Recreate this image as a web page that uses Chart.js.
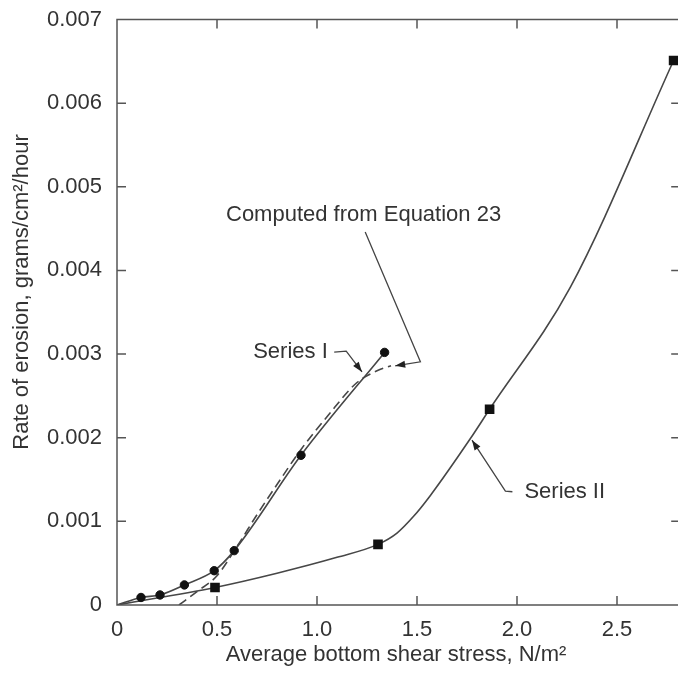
<!DOCTYPE html>
<html>
<head>
<meta charset="utf-8">
<title>Rate of erosion</title>
<script src="https://cdn.jsdelivr.net/npm/chart.js@4.4.1/dist/chart.umd.min.js"></script>
<style>
  html, body { margin: 0; padding: 0; background: #fff; overflow: hidden; }
  canvas { display: block; }
</style>
</head>
<body>
<canvas id="erosion" width="687" height="673"></canvas>
<script>
// axis ticks
const xTicks = [0, 0.5, 1.0, 1.5, 2.0, 2.5];
const yTicks = [0, 0.001, 0.002, 0.003, 0.004, 0.005, 0.006, 0.007];

// Series I, measured points
const s1Stress = [0.12, 0.215, 0.337, 0.486, 0.586, 0.92, 1.338];
const s1Rate = [0.00009, 0.00012, 0.00024, 0.00041, 0.00065, 0.00179, 0.00302];

// Series II, measured points
const s2Stress = [0.49, 1.305, 1.863, 2.783];
const s2Rate = [0.00021, 0.000725, 0.00234, 0.00651];

// Series II, drawn curve
const s2CurveStress = [0, 0.49, 0.8, 1.1, 1.305, 1.40, 1.483, 1.567, 1.767, 1.863, 2.267, 2.783];
const s2CurveRate = [0, 0.00021, 0.00038, 0.00057, 0.000725, 0.00086, 0.00106, 0.00131, 0.00199, 0.00234, 0.0038, 0.00651];

// Computed from Equation 23
const eqStress = [0.31, 0.40, 0.50, 0.60, 0.70, 0.80, 0.92, 1.05, 1.20, 1.30, 1.37];
const eqRate = [0, 0.00016, 0.00035, 0.0007, 0.00108, 0.00144, 0.00186, 0.00225, 0.00266, 0.0028, 0.00286];

const FONT = "'Liberation Sans', Arial, Helvetica, sans-serif";
const INK = '#333';
const LINE = '#474747';
const TICK_LEN = 9;

function pts(xs, ys) {
    return xs.map((v, i) => ({ x: v, y: ys[i] }));
}

// labels with leader lines (data units)
const notes = [
    { text: 'Computed from Equation 23', at: [0.545, 0.00466], path: [[1.241, 0.00446], [1.517, 0.002907], [1.391, 0.002859]] },
    { text: 'Series I', at: [0.681, 0.003023], path: [[1.086, 0.003023], [1.146, 0.003035], [1.225, 0.002787]] },
    { text: 'Series II', at: [2.037, 0.001354], path: [[1.977, 0.001354], [1.942, 0.001362], [1.775, 0.001971]] }
];

function arrowHead(ctx, x0, y0, x1, y1) {
    let ang = Math.atan2(y1 - y0, x1 - x0);
    let len = 10, half = 3.5;
    ctx.beginPath();
    ctx.moveTo(x1, y1);
    ctx.lineTo(x1 - len * Math.cos(ang) + half * Math.sin(ang), y1 - len * Math.sin(ang) - half * Math.cos(ang));
    ctx.lineTo(x1 - len * Math.cos(ang) - half * Math.sin(ang), y1 - len * Math.sin(ang) + half * Math.cos(ang));
    ctx.closePath();
    ctx.fill();
}

// no extra room for half labels at the ends of the axes
function noEdgePadding(s) {
    s.paddingTop = 0; s.paddingBottom = 0;
    s.paddingLeft = 0; s.paddingRight = 0;
}

const boxPlugin = {
    id: 'box',
    afterDraw(chart) {
        const ctx = chart.ctx;
        const a = chart.chartArea;
        const sx = chart.scales.x, sy = chart.scales.y;
        ctx.save();

        // frame with inward ticks on all sides
        ctx.strokeStyle = '#555';
        ctx.lineWidth = 1.5;
        ctx.strokeRect(a.left, a.top, a.right - a.left, a.bottom - a.top);
        ctx.beginPath();
        xTicks.forEach(v => {
            if (v === 0) return;
            let px = sx.getPixelForValue(v);
            ctx.moveTo(px, a.bottom); ctx.lineTo(px, a.bottom - TICK_LEN);
            ctx.moveTo(px, a.top); ctx.lineTo(px, a.top + TICK_LEN);
        });
        yTicks.forEach(v => {
            if (v === 0 || v === 0.007) return;
            let py = sy.getPixelForValue(v);
            ctx.moveTo(a.left, py); ctx.lineTo(a.left + TICK_LEN, py);
            ctx.moveTo(a.right, py); ctx.lineTo(a.right - TICK_LEN, py);
        });
        ctx.stroke();

        // axis titles
        ctx.fillStyle = INK;
        ctx.font = '22px ' + FONT;
        ctx.textAlign = 'center';
        ctx.textBaseline = 'middle';
        ctx.fillText('Average bottom shear stress, N/m²', 396, 655);
        ctx.save();
        ctx.translate(22, 292);
        ctx.rotate(-Math.PI / 2);
        ctx.fillText('Rate of erosion, grams/cm²/hour', 0, 0);
        ctx.restore();

        // annotations
        ctx.textAlign = 'left';
        ctx.strokeStyle = '#444';
        ctx.fillStyle = INK;
        ctx.lineWidth = 1.3;
        notes.forEach(n => {
            ctx.fillText(n.text, sx.getPixelForValue(n.at[0]), sy.getPixelForValue(n.at[1]));
            let p = n.path.map(q => [sx.getPixelForValue(q[0]), sy.getPixelForValue(q[1])]);
            ctx.beginPath();
            ctx.moveTo(p[0][0], p[0][1]);
            for (let i = 1; i < p.length; i++) ctx.lineTo(p[i][0], p[i][1]);
            ctx.stroke();
            let k = p.length - 1;
            ctx.fillStyle = '#222';
            arrowHead(ctx, p[k - 1][0], p[k - 1][1], p[k][0], p[k][1]);
            ctx.fillStyle = INK;
        });
        ctx.restore();
    }
};

let s1Line = [{ x: 0, y: 0 }].concat(pts(s1Stress, s1Rate));

new Chart(document.getElementById('erosion'), {
    type: 'scatter',
    data: {
        datasets: [
            {
                label: 'Series I',
                data: pts(s1Stress, s1Rate),
                showLine: false,
                pointStyle: 'circle',
                pointRadius: 4.2,
                backgroundColor: '#111',
                borderColor: '#111',
                order: 0
            },
            {
                label: 'Series II',
                data: pts(s2Stress, s2Rate),
                showLine: false,
                pointStyle: 'rect',
                pointRadius: 6.8,
                backgroundColor: '#111',
                borderColor: '#111',
                borderWidth: 0,
                order: 0
            },
            {
                label: 'Series I curve',
                data: s1Line,
                showLine: true,
                pointRadius: 0,
                borderColor: LINE,
                borderWidth: 1.6,
                cubicInterpolationMode: 'monotone',
                order: 1
            },
            {
                label: 'Series II curve',
                data: pts(s2CurveStress, s2CurveRate),
                showLine: true,
                pointRadius: 0,
                borderColor: LINE,
                borderWidth: 1.6,
                cubicInterpolationMode: 'monotone',
                order: 1
            },
            {
                label: 'Computed from Equation 23',
                data: pts(eqStress, eqRate),
                showLine: true,
                pointRadius: 0,
                borderColor: LINE,
                borderWidth: 1.6,
                borderDash: [9, 5],
                cubicInterpolationMode: 'monotone',
                order: 1
            }
        ]
    },
    options: {
        responsive: false,
        animation: false,
        events: [],
        layout: { padding: { top: 19.5, right: 1, left: 0, bottom: 0 } },
        plugins: {
            legend: { display: false },
            tooltip: { enabled: false }
        },
        scales: {
            x: {
                type: 'linear',
                min: 0,
                max: 2.816,
                afterFit(s) { s.height = 68; noEdgePadding(s); },
                afterBuildTicks(s) { s.ticks = xTicks.map(v => ({ value: v })); },
                grid: { display: false, drawTicks: false },
                border: { display: false },
                ticks: {
                    padding: 12,
                    color: INK,
                    font: { family: FONT, size: 22 },
                    maxRotation: 0,
                    autoSkip: false,
                    callback: v => v === 0 ? '0' : v.toFixed(1)
                }
            },
            y: {
                type: 'linear',
                min: 0,
                max: 0.007,
                afterFit(s) { s.width = 117; noEdgePadding(s); },
                afterBuildTicks(s) { s.ticks = yTicks.map(v => ({ value: v })); },
                grid: { display: false, drawTicks: false },
                border: { display: false },
                ticks: {
                    padding: 15,
                    color: INK,
                    font: { family: FONT, size: 22 },
                    autoSkip: false,
                    callback: v => v === 0 ? '0' : v.toFixed(3)
                }
            }
        }
    },
    plugins: [boxPlugin]
});
</script>
</body>
</html>
